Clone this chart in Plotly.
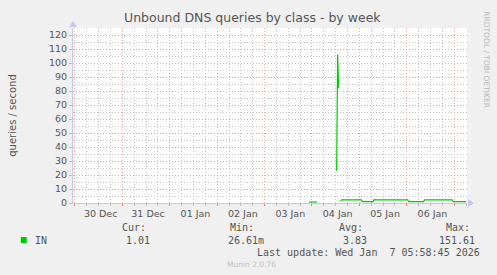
import plotly.graph_objects as go

# ---- data ----
times = [
    "2026-01-03 22:30", "2026-01-04 00:00", "2026-01-04 01:30", "2026-01-04 02:30", "2026-01-04 03:00",
    "2026-01-04 12:30", "2026-01-04 13:00", "2026-01-04 13:30", "2026-01-04 14:00",
    "2026-01-04 14:30", "2026-01-04 15:00", "2026-01-05 01:00", "2026-01-05 01:30",
    "2026-01-05 07:00", "2026-01-05 07:30", "2026-01-05 08:30", "2026-01-05 19:00",
    "2026-01-05 19:30", "2026-01-05 20:00", "2026-01-06 00:30", "2026-01-06 01:00",
    "2026-01-06 08:30", "2026-01-06 09:00", "2026-01-06 17:30", "2026-01-06 18:00",
    "2026-01-06 18:30", "2026-01-06 23:00", "2026-01-06 23:30", "2026-01-07 06:00",
]
values_in = [
    0.7, 0.7, 0.7, 0.7, None,
    23.0, 106.0, 82.0, None,
    1.3, 2.2, 2.2, 1.0,
    1.0, 2.4, 2.2, 2.2,
    1.8, 2.2, 2.2, 1.0,
    1.0, 2.2, 2.2, 1.8,
    2.2, 2.2, 1.0, 1.0,
]
x_range = ["2025-12-29 23:00", "2026-01-07 06:30"]
y_range = [0, 125]
y_ticks = list(range(0, 121, 10))

legend_name = "IN"
stat_labels = ["Cur:", "Min:", "Avg:", "Max:"]
stat_values = ["1.01", "26.61m", "3.83", "151.61"]
title = "Unbound DNS queries by class - by week"
last_update = "Last update: Wed Jan\u00a0\u00a07 05:58:45 2026"

# ---- layout constants (pixels) ----
W, H = 497, 275
L, R, T, B = 67, 467, 28, 203

def px(x):
    return (x - L) / (R - L)

def py(y):
    return (B - y) / (B - T)

GREEN = "#00CC00"
TXT = "#555555"
MGRID_X = "#F0A8A8"
MGRID_Y = "#F0A0A0"
mGRID = "#C8C8C8"
AXIS = "#C8C8F0"
DASH = "1px,2px"

fig = go.Figure()
fig.add_trace(go.Scatter(x=times, y=values_in, mode="lines",
                         line=dict(color=GREEN, width=1.2), connectgaps=False,
                         showlegend=False, hoverinfo="skip"))

fig.update_layout(
    width=W, height=H,
    margin=dict(l=L, r=W - R, t=T, b=H - B),
    paper_bgcolor="#F0F0F0", plot_bgcolor="#FFFFFF",
    font=dict(family="DejaVu Sans", color=TXT, size=9),
    showlegend=False,
)
fig.update_xaxes(
    range=x_range, type="date",
    dtick=86400000, tick0="2025-12-30 00:00", tickformat="%d %b",
    ticklabelmode="period", ticklabelshift=2,
    showgrid=True, gridcolor=MGRID_X, griddash=DASH, gridwidth=1,
    ticks="outside", ticklen=2, tickcolor="#E08080",
    tickfont=dict(size=9.5, color=TXT),
    minor=dict(dtick=6 * 3600000, tick0="2025-12-30 00:00", showgrid=True, gridcolor=mGRID,
               griddash=DASH, ticks="outside", ticklen=2, tickcolor="#BBBBBB"),
    showline=True, linecolor=AXIS, linewidth=1,
    zeroline=False, fixedrange=True,
)
fig.update_yaxes(
    range=y_range, tickvals=y_ticks,
    showgrid=True, gridcolor=MGRID_Y, griddash=DASH, gridwidth=1,
    ticks="outside", ticklen=3, tickcolor="#BBBBBB",
    tickfont=dict(size=9.5, color=TXT),
    minor=dict(dtick=5, tick0=0, showgrid=True, gridcolor=mGRID, griddash=DASH),
    showline=True, linecolor=AXIS, linewidth=1,
    zeroline=False, fixedrange=True,
    title=dict(text="queries / second", font=dict(size=10, color=TXT), standoff=30),
)

mono = "DejaVu Sans Mono"
ann = []
ann.append(dict(text=title, x=px(249), y=py(18), xref="paper", yref="paper",
                showarrow=False, xanchor="center", yanchor="middle",
                font=dict(size=12.5, color=TXT)))
ann.append(dict(text="RRDTOOL / TOBI OETIKER", x=px(487), y=py(60), xref="paper", yref="paper",
                showarrow=False, textangle=90, xanchor="center", yanchor="middle",
                font=dict(size=7.5, color="#B8B8B8")))
ann.append(dict(text=legend_name, x=px(26), y=py(240), xref="paper", yref="paper",
                showarrow=False, xanchor="left", yanchor="middle",
                font=dict(family=mono, size=10, color=TXT)))
for lab, xc in zip(stat_labels, [129, 239, 349, 458]):
    ann.append(dict(text=lab, x=px(xc), y=py(227), xref="paper", yref="paper",
                    showarrow=False, xanchor="center", yanchor="middle",
                    font=dict(family=mono, size=10, color=TXT)))
for val, xr in zip(stat_values, [147, 263, 367, 477]):
    ann.append(dict(text=val, x=px(xr), y=py(240), xref="paper", yref="paper",
                    showarrow=False, xanchor="right", yanchor="middle",
                    font=dict(family=mono, size=10, color=TXT)))
ann.append(dict(text=last_update, x=px(482), y=py(252), xref="paper", yref="paper",
                showarrow=False, xanchor="right", yanchor="middle",
                font=dict(family=mono, size=10, color=TXT)))
ann.append(dict(text="Munin 2.0.76", x=px(248), y=py(264), xref="paper", yref="paper",
                showarrow=False, xanchor="center", yanchor="middle",
                font=dict(size=7.5, color="#C0C0C0")))
fig.update_layout(annotations=ann)

shapes = [
    dict(type="rect", xref="paper", yref="paper", x0=px(14), x1=px(20), y0=py(243), y1=py(237),
         fillcolor=GREEN, line=dict(width=0)),
    dict(type="path", xref="paper", yref="paper",
         path=f"M {px(63)},{py(27)} L {px(71)},{py(27)} L {px(67)},{py(21)} Z",
         fillcolor=AXIS, line=dict(width=0)),
    dict(type="path", xref="paper", yref="paper",
         path=f"M {px(468)},{py(199)} L {px(468)},{py(207)} L {px(474)},{py(203)} Z",
         fillcolor=AXIS, line=dict(width=0)),
]
fig.update_layout(shapes=shapes)

fig.write_html("out.html")
